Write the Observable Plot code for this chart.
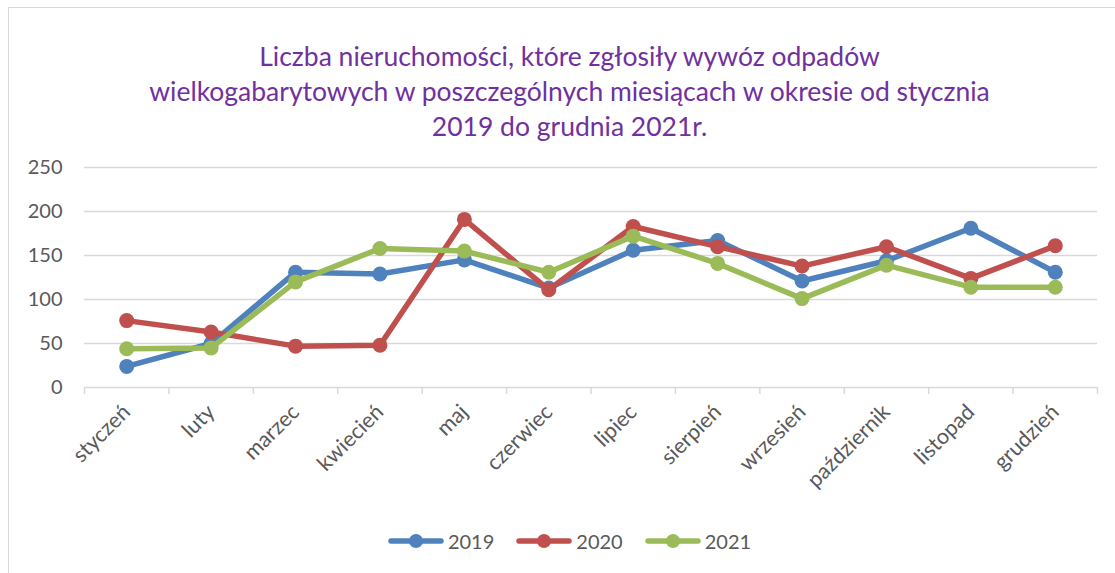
<!DOCTYPE html>
<html><head><meta charset="utf-8">
<script src="https://cdn.jsdelivr.net/npm/d3@7"></script>
<script src="https://cdn.jsdelivr.net/npm/@observablehq/plot@0.6"></script>
<style>
html,body{margin:0;padding:0;background:#fff;font-family:Lato,"Open Sans",sans-serif;overflow:hidden;}
#frame{position:absolute;left:8px;top:7px;width:1300px;height:800px;border-left:1.5px solid #d9d9d9;border-top:1.5px solid #d9d9d9;}
#title{position:absolute;left:0;width:1139px;top:39px;text-align:center;color:#7030A0;font-size:26.5px;line-height:35px;}
#chart{position:absolute;left:0;top:140px;}
#legend{position:absolute;left:0;width:1139px;top:529px;height:24px;display:flex;justify-content:center;align-items:center;color:#595959;font-size:20px;}
.item{display:flex;align-items:center;margin:0 11px;}
.item svg{margin-right:4px;}
</style></head>
<body>
<div id="frame"></div>
<div id="title">Liczba nieruchomości, które zgłosiły wywóz odpadów<br>wielkogabarytowych w poszczególnych miesiącach w okresie od stycznia<br>2019 do grudnia 2021r.</div>
<div id="chart"></div>
<div id="legend"></div>
<script>
const months = ["styczeń","luty","marzec","kwiecień","maj","czerwiec","lipiec","sierpień","wrzesień","październik","listopad","grudzień"];
const years = ["2019","2020","2021"];
const v2019 = [24,50,131,129,145,113,156,167,121,144,181,131];
const v2020 = [76,63,47,48,191,111,183,160,138,160,124,161];
const v2021 = [44,45,120,158,155,131,172,141,101,139,114,114];
const yTicks = [0,50,100,150,200,250];
const colors = ["#4F81BD","#C0504D","#9BBB59"];

const seriesValues = [v2019, v2020, v2021];
const data = [];
years.forEach((yr, s) => seriesValues[s].forEach((v, i) => data.push({year: yr, month: months[i], idx: i + 0.5, value: v})));

const marks = [
  Plot.gridY(yTicks, {stroke: "#d9d9d9", strokeOpacity: 1, strokeWidth: 1.5}),
  Plot.axisY(yTicks, {tickSize: 0, tickPadding: 22, fontSize: 20, fill: "#595959", label: null}),
  Plot.axisX(d3.range(months.length + 1), {tickSize: 7, tickFormat: () => "", stroke: "#d9d9d9", strokeWidth: 1.5, label: null}),
  Plot.axisX(months.map((m, i) => i + 0.5), {tickSize: 0, tickPadding: 21, tickRotate: -45, dx: 0, fontSize: 21.5, fill: "#595959", tickFormat: d => months[Math.floor(d)], label: null})
];
years.forEach((yr, s) => {
  const rows = data.filter(d => d.year === yr);
  marks.push(Plot.line(rows, {x: "idx", y: "value", stroke: colors[s], strokeWidth: 5.5, strokeLinejoin: "round", strokeLinecap: "round"}));
  marks.push(Plot.dot(rows, {x: "idx", y: "value", fill: colors[s], r: 7.5}));
});

const chart = Plot.plot({
  width: 1115, height: 357,
  marginLeft: 84, marginRight: 18, marginTop: 27, marginBottom: 110,
  x: {type: "linear", domain: [0, months.length], axis: null},
  y: {domain: [0, 250], axis: null},
  style: {fontFamily: "Lato, 'Open Sans', sans-serif", background: "transparent", overflow: "visible"},
  marks
});
document.getElementById("chart").appendChild(chart);

const legend = document.getElementById("legend");
years.forEach((yr, s) => {
  const item = document.createElement("div");
  item.className = "item";
  item.innerHTML = `<svg width="56" height="20"><line x1="3" y1="10" x2="53" y2="10" stroke="${colors[s]}" stroke-width="5.5" stroke-linecap="round"/><circle cx="28" cy="10" r="7" fill="${colors[s]}"/></svg><span>${yr}</span>`;
  legend.appendChild(item);
});
</script>
</body></html>
